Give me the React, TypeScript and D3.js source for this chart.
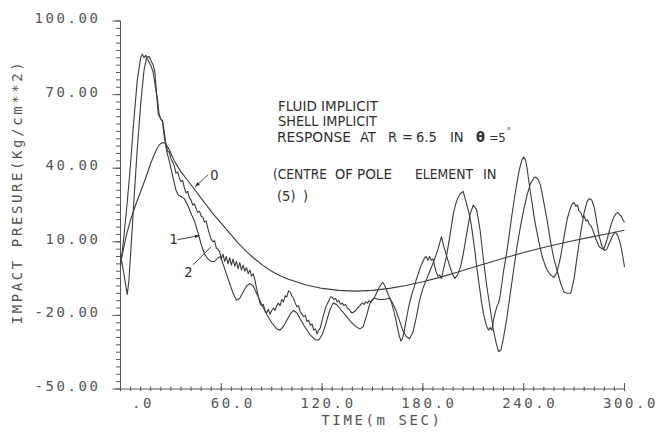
import React from "react";
import * as d3 from "d3";

// Axis ticks and labels
const xTicks = [0, 60, 120, 180, 240, 300];
const xTickLabels = [".0", "60.0", "120.0", "180.0", "240.0", "300.0"];
const yTicks = [-50, -20, 10, 40, 70, 100];
const yTickLabels = ["-50.00", "-20.00", "10.00", "40.00", "70.00", "100.00"];

// Curve 0: smooth response [time (ms), pressure]
const curve0: [number, number][] = [
  [0, 1], [2, 8], [4, 14], [6, 19], [9, 25], [12, 30.5], [15, 36], [18, 42], [21, 47],
  [23, 49.5], [25, 50.5], [27, 50], [29, 47.5], [32, 43], [36, 38.5], [40, 35], [45, 30.5],
  [50, 26], [55, 21.5], [60, 17.5], [65, 13.5], [70, 9.5], [75, 6], [80, 3], [85, 0.3],
  [90, -2], [95, -3.8], [100, -5.3], [110, -7.5], [120, -9], [130, -9.8], [140, -10.1],
  [150, -9.8], [160, -9], [170, -7.8], [180, -6.3], [190, -4.5], [200, -2.5], [210, -0.4],
  [220, 1.7], [230, 3.7], [240, 5.6], [250, 7.4], [260, 9], [270, 10.5], [280, 11.9],
  [290, 13.3], [300, 14.7],
];

// Curve 1: oscillating response, lagging
const curve1: [number, number][] = [
  [0, 5], [2, -3], [4, -11.5], [5, -6], [6, 5], [8, 27], [10, 48], [12, 66], [14, 80],
  [15.5, 85], [17, 85.5], [18, 84], [19.5, 82], [20.5, 79], [21.5, 70], [22.5, 62], [24, 60],
  [25, 59], [26, 53], [27.5, 47], [29, 43], [31, 37], [33, 31], [34.5, 29], [36, 28.5],
  [38, 27.5], [40, 25], [42, 21.5], [44, 18.5], [46, 14], [48, 9], [50, 5], [52, 3], [54, 2],
  [56, 2], [58, 3.5], [59.5, 4], [61, 1], [63, -3], [65, -7], [67, -11], [69, -13.8],
  [71, -13], [73, -10.5], [75, -8], [77, -7], [79, -8], [81, -11], [84, -15.5], [87, -19.5],
  [90, -23], [93, -25.5], [95, -26], [97, -24.5], [99, -22], [101, -19.5], [103, -18],
  [105, -19], [107, -21.5], [110, -25], [113, -28], [116, -30], [118, -30], [120, -28],
  [122, -24], [124.5, -18], [126.5, -15], [128.5, -15.5], [131, -17.5], [134, -20],
  [137, -22.5], [140, -24.5], [142.5, -25.5], [144.5, -24.5], [146.5, -20], [148.5, -15],
  [151, -13], [154, -13.5], [157, -13.5], [160, -13], [162, -15], [164, -18], [166, -22],
  [168, -26], [170, -28.5], [172, -29.5], [174, -27], [176, -21], [178, -14], [180, -9],
  [182, -5.5], [185, -0.5], [187, 3], [189, 7], [191, 12], [192.5, 8], [194, 4.5], [196, 0],
  [197.5, -3], [199, -5], [201, -3], [202.5, 0], [204, 5], [206, 13], [208, 21], [210, 25],
  [212, 23], [214, 15], [216, 3], [218, -8], [220, -17], [222, -26], [223.5, -31],
  [225, -34.8], [226.5, -34], [228, -29], [230, -21], [232, -11], [234, -1.5], [236, 8],
  [238, 16], [240, 23], [242, 29], [244, 33.7], [246, 36], [247, 36.4], [248.5, 35.5],
  [250, 33], [252, 26], [254, 18.5], [256, 10], [258, 3], [260, -2], [262, -7], [264, -10.5],
  [266, -11], [268, -11], [270, -5], [272, 5], [274, 14], [276, 22], [277.5, 26], [279, 27.6],
  [280.5, 27], [282, 24], [283.5, 18], [285, 12], [286.5, 8.5], [288, 6.5], [289.5, 7],
  [291, 9.5], [293, 12.5], [294.6, 14], [296, 12.5], [297.6, 9], [299, 4], [300, -0.2],
];

// Curve 2: oscillating response with step noise, leading
const curve2: [number, number][] = [
  [0, 0], [2, 12], [4, 26], [6, 42], [8, 60], [10, 76], [12, 85], [13, 86.5], [14, 85],
  [15, 86], [16, 84.5], [18, 82], [19.5, 79], [21, 72], [22, 68], [23, 62], [24, 60],
  [25, 59.5], [26, 55], [27, 50], [28, 47], [29, 46.5], [30, 44], [31, 42.5], [32, 41],
  [33, 38], [34, 38.5], [35, 36], [36, 34.5], [37, 35], [38, 32], [39, 30], [40, 30.5],
  [41, 28], [42, 27], [43, 25], [44, 25.5], [45, 23.5], [46, 22], [47, 22.5], [48, 20.5],
  [49, 20], [50, 18], [51, 18.5], [52, 15.5], [53, 13], [54, 11], [55, 10], [56, 10.5],
  [57, 7.5], [58, 7], [59, 6], [60, 3], [61, 5], [62, 2], [63, 4], [64, 1], [65, 3.5],
  [66, 0.5], [67, 3], [68, 0], [69, 2], [70, -1], [71, 1.5], [72, -1.5], [73, 0.5], [74, -2],
  [75, -0.5], [76, -3], [77, -1.5], [78, -4], [79, -3], [80, -5.5], [81, -9], [82, -12],
  [83, -15], [84, -16], [85, -15.5], [86, -18], [87, -19], [88, -17.5], [89, -19.5],
  [90, -18], [91, -17], [92, -18], [93, -16], [94, -15], [95, -16], [96, -13.5], [97, -14.5],
  [98, -12], [99, -12.5], [100, -10], [101, -10.5], [102, -12], [103, -13], [104, -15],
  [105, -16.5], [106, -16], [107, -18.5], [108, -19.5], [109, -20.5], [110, -20],
  [111, -22.5], [112, -22], [113, -24], [114, -23.5], [115, -26], [116, -25.5], [117, -27.5],
  [118, -26], [119, -25], [120, -22], [121, -19.5], [122, -17], [123, -15.5], [124, -14],
  [125, -12.5], [126, -12.5], [127, -13.5], [128, -13], [129, -14.5], [130, -14],
  [131, -15.5], [132, -15], [133, -16], [134, -15.5], [135, -17], [136, -17.5], [137, -18.5],
  [138, -19], [139, -18.5], [140, -18], [141, -17], [142, -16.5], [143, -15.5], [144, -15],
  [145, -15.5], [146, -14.5], [147, -15], [148, -14], [149, -14.5], [150, -13.5], [151, -13],
  [152, -11.5], [153, -10], [154, -8.5], [155, -7.5], [156, -6.5], [157, -7.5], [158, -9],
  [159, -11], [160, -12.5], [161, -14], [162, -16.5], [163, -19], [164, -22], [165, -25.5],
  [166, -28.5], [167, -30.5], [168, -29], [169, -26], [170, -22], [171, -18.5], [172, -15],
  [173, -12.5], [174, -10], [175, -8], [176, -5.5], [177, -3.5], [178, -1.5], [179, 0.5],
  [180, 2], [181, 3.5], [182, 4], [183, 2.5], [184, 4], [185, 2.5], [186, 3], [187, 0],
  [188, -2.5], [189, -4], [190, -3.5], [191, -5], [192, -2], [193, 1], [194, 4], [195, 8],
  [196, 12], [197, 16.5], [198, 21], [199, 24], [200, 26.5], [201, 28], [202, 29.5],
  [203, 30], [204, 30.5], [205, 28], [206, 25.5], [207, 23], [208, 20], [209, 16], [210, 11],
  [211, 6], [212, 0], [213, -5], [214, -10], [215, -15], [216, -19], [217, -22],
  [218, -24.5], [219, -26], [220, -25], [221, -26], [222, -22], [223, -19], [224, -16.5],
  [225, -15], [226, -12], [227, -7], [228, -2], [229, 2], [230, 6], [231, 11], [232, 16],
  [233, 21], [234, 25.5], [235, 30], [236, 34], [237, 38], [238, 41], [239, 43.5],
  [240, 44.5], [241, 43.5], [242, 40], [243, 35], [244, 30], [245, 26], [246, 21], [247, 17],
  [248, 13.5], [249, 10], [250, 7], [251, 4], [252, 2], [253, 0], [254, -1.5], [255, -2.5],
  [256, -3.5], [257, -4], [258, -4.5], [259, -3.5], [260, -2], [261, 1], [262, 4], [263, 8],
  [264, 12], [265, 16], [266, 19.5], [267, 22], [268, 24], [269, 25.5], [270, 26],
  [271, 24.5], [272, 25], [273, 22.5], [274, 22], [275, 20], [276, 20.5], [277, 18.5],
  [278, 19], [279, 17], [280, 16.5], [281, 15], [282, 13], [283, 11], [284, 9.5], [285, 8],
  [286, 7.5], [287, 7], [288, 7.5], [289, 9.5], [290, 12], [291, 14.5], [292, 17], [293, 19],
  [294, 20.5], [295, 21.5], [296, 22], [297, 21], [298, 20.5], [299, 19], [300, 18],
];

// Curve identifiers and where their pointers touch the curves (time, pressure)
const curveLabels = ["0", "1", "2"];
const labelTargets: [number, number][] = [[44.5, 32.5], [47, 12.5], [54, 8]];

// Run description, word by word: [text, x, baseline, fitted width or 0]
const noteWords: [string, number, number, number][] = [
  ["FLUID IMPLICIT", 278, 111, 100],
  ["SHELL IMPLICIT", 278, 125.5, 99],
  ["RESPONSE", 277, 142, 74],
  ["AT", 360, 142, 0],
  ["R", 388, 142, 0],
  ["=", 402, 142, 0],
  ["6.5", 416, 142, 0],
  ["IN", 450, 142, 0],
  ["(CENTRE", 273, 179, 54],
  ["OF", 335, 179, 0],
  ["POLE", 357, 179, 35],
  ["ELEMENT", 415, 179, 58],
  ["IN", 483, 179, 0],
  ["(5)", 277, 201, 0],
  [")", 303, 201, 0],
];

const plotFont = "'DejaVu Sans Mono', monospace";
const noteFont = "'DejaVu Sans Condensed', 'Liberation Sans', sans-serif";
const axisInk = "#555";
const lineInk = "#3c3d36";
const noteInk = "#2f2f2f";

function arrowHead(x1: number, y1: number, x2: number, y2: number, size = 5) {
  const a = Math.atan2(y2 - y1, x2 - x1);
  const p1 = [x2 - size * Math.cos(a - 0.38), y2 - size * Math.sin(a - 0.38)];
  const p2 = [x2 - size * Math.cos(a + 0.38), y2 - size * Math.sin(a + 0.38)];
  return `${x2},${y2} ${p1[0]},${p1[1]} ${p2[0]},${p2[1]}`;
}

export default function App() {
  const width = 658;
  const height = 432;
  const x = d3.scaleLinear().domain([0, 300]).range([120.5, 624.5]);
  const y = d3.scaleLinear().domain([-50, 100]).range([389, 21]);
  const line = d3
    .line<[number, number]>()
    .x((d) => x(d[0]))
    .y((d) => y(d[1]));

  const xMinor = d3.range(0, 300.001, 6);
  const yMinor = d3.range(-50, 100.001, 3);
  const x0 = x(0);
  const yBase = y(-50);

  const plotText = {
    fontFamily: plotFont,
    fontSize: 14,
    letterSpacing: 2.6,
    fill: axisInk,
  } as const;
  const noteText = {
    fontFamily: noteFont,
    fontSize: 14.5,
    fill: noteInk,
  } as const;

  // pointer geometry: label offsets in px relative to the target point
  const pointerFrom: [number, number][] = [[13, -12], [-22, 4], [-18, 18]];
  const labelPos: [number, number][] = [[15, -7], [-30, 8], [-27, 30]];

  return (
    <svg
      width={width}
      height={height}
      viewBox={`0 0 ${width} ${height}`}
      style={{ position: "absolute", left: 0, top: 0, background: "#fff" }}
    >
      <rect width={width} height={height} fill="#fff" />

      {/* y axis */}
      <line x1={x0} x2={x0} y1={y(100)} y2={yBase} stroke={axisInk} strokeWidth={1} />
      {yMinor.map((v) => (
        <line key={`ym${v}`} x1={x0 - 4.5} x2={x0} y1={y(v)} y2={y(v)} stroke={axisInk} strokeWidth={1} />
      ))}
      {yTicks.map((v, i) => (
        <g key={`yt${v}`}>
          <line x1={x0 - 8} x2={x0} y1={y(v)} y2={y(v)} stroke={axisInk} strokeWidth={1} />
          <text x={98 + 2.6} y={y(v) + 2} textAnchor="end" {...plotText}>
            {yTickLabels[i]}
          </text>
        </g>
      ))}

      {/* x axis */}
      <line x1={x0} x2={x(300)} y1={yBase} y2={yBase} stroke={axisInk} strokeWidth={1} />
      {xMinor.map((t) => (
        <line key={`xm${t}`} x1={x(t)} x2={x(t)} y1={yBase - 2.5} y2={yBase + 2} stroke={axisInk} strokeWidth={1} />
      ))}
      {xTicks.map((t, i) => (
        <g key={`xt${t}`}>
          <line x1={x(t)} x2={x(t)} y1={yBase - 6} y2={yBase + 2} stroke={axisInk} strokeWidth={1} />
          <text x={x(t) + 31 + 2.6} y={408} textAnchor="end" {...plotText}>
            {xTickLabels[i]}
          </text>
        </g>
      ))}

      <text x={382} y={425} textAnchor="middle" {...plotText}>
        TIME(m SEC)
      </text>
      <text transform="translate(22,192) rotate(-90)" textAnchor="middle" {...plotText}>
        IMPACT PRESURE(Kg/cm**2)
      </text>

      {/* response curves */}
      {[curve0, curve1, curve2].map((c, i) => (
        <path key={`c${i}`} d={line(c) ?? ""} fill="none" stroke={lineInk} strokeWidth={1.1} strokeLinejoin="round" />
      ))}

      {/* curve pointers */}
      {labelTargets.map((p, i) => {
        const tx = x(p[0]);
        const ty = y(p[1]);
        const fx = tx + pointerFrom[i][0];
        const fy = ty + pointerFrom[i][1];
        return (
          <g key={`lbl${i}`}>
            <line x1={fx} y1={fy} x2={tx} y2={ty} stroke={noteInk} strokeWidth={0.9} />
            {i < 2 && <polygon points={arrowHead(fx, fy, tx, ty, 5)} fill={noteInk} />}
            <text x={tx + labelPos[i][0]} y={ty + labelPos[i][1]} {...noteText}>
              {curveLabels[i]}
            </text>
          </g>
        );
      })}

      {/* run description */}
      {noteWords.map(([s, wx, wy, len], i) => (
        <text
          key={`nw${i}`}
          x={wx}
          y={wy}
          {...noteText}
          {...(len > 0 ? { textLength: len, lengthAdjust: "spacingAndGlyphs" } : {})}
        >
          {s}
        </text>
      ))}
      <text x={476} y={142} {...noteText} fontWeight="bold">θ</text>
      <text x={489} y={142} {...noteText} fontSize={13} letterSpacing={-0.5}>
        =5<tspan dx={1.5} dy={-8} fontSize={9}>°</tspan>
      </text>
    </svg>
  );
}
